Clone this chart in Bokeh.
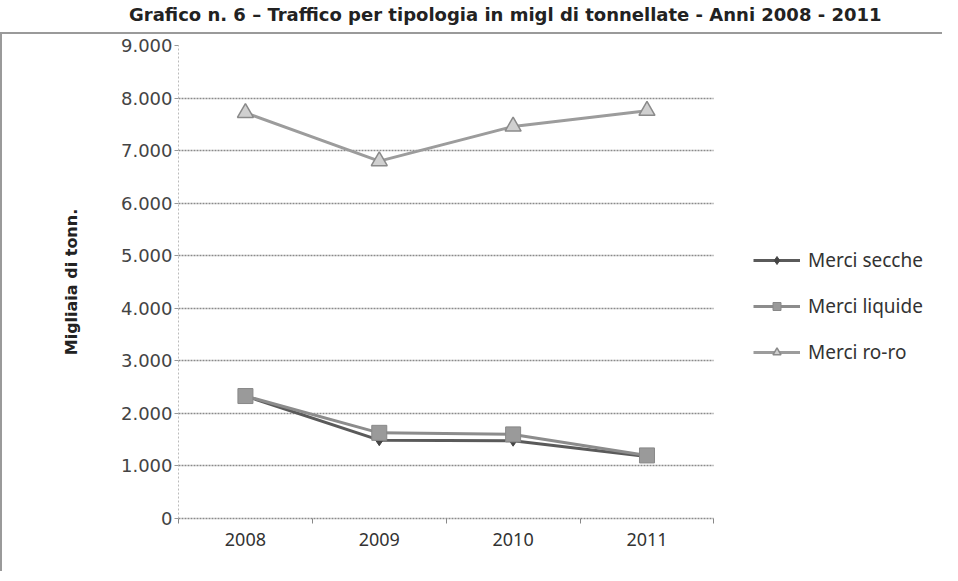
from bokeh.plotting import figure
from bokeh.models import Legend, LegendItem, FixedTicker, Div
from bokeh.layouts import column
from bokeh.embed import file_html
from bokeh.resources import INLINE

# ---- data ----
years = ["2008", "2009", "2010", "2011"]
secche = [2330, 1490, 1480, 1180]
liquide = [2330, 1630, 1600, 1200]
roro = [7720, 6800, 7460, 7760]
series_names = ["Merci secche", "Merci liquide", "Merci ro-ro"]
y_ticks = [0, 1000, 2000, 3000, 4000, 5000, 6000, 7000, 8000, 9000]
y_tick_labels = ["0", "1.000", "2.000", "3.000", "4.000", "5.000", "6.000", "7.000", "8.000", "9.000"]
title_text = "Grafico n. 6 \u2013 Traffico per tipologia in migl di tonnellate - Anni 2008 - 2011"
y_title = "Migliaia di tonn."

# layout sizes (pixels)
plot_w = 534      # width of the category area
frame_w = 764     # frame includes the legend area on the right
frame_h = 471

xs = [i + 0.5 for i in range(len(years))]
x_end = len(years) * frame_w / plot_w

title_div = Div(text=title_text, width=820, height=22,
                styles={"font-family": "DejaVu Sans", "font-weight": "bold",
                        "font-size": "18px", "color": "#222222",
                        "padding-left": "124px", "line-height": "20px",
                        "white-space": "nowrap"})

p = figure(frame_width=frame_w, frame_height=frame_h, x_range=(0, x_end), y_range=(0, 9000),
           output_backend="svg", toolbar_location=None,
           min_border_left=176, min_border_right=0, min_border_top=11, min_border_bottom=55)
p.styles = {"border-left": "2px solid #9a9a9a", "border-top": "2px solid #9a9a9a"}
p.outline_line_alpha = 0
p.background_fill_color = "white"
p.border_fill_color = "white"

# x axis
p.xaxis.bounds = (0, len(years))
p.xaxis.ticker = FixedTicker(ticks=xs, minor_ticks=list(range(len(years) + 1)))
p.xaxis.major_label_overrides = {x: y for x, y in zip(xs, years)}
p.xaxis.major_tick_line_alpha = 0
p.xaxis.minor_tick_out = 5
p.xaxis.minor_tick_in = 0
p.xaxis.minor_tick_line_color = "#888888"
p.xaxis.axis_line_color = "#8a8a8a"
p.xaxis.axis_line_dash = "2 1"
p.xaxis.axis_line_width = 1.5
p.xaxis.major_label_standoff = 8
p.xaxis.major_label_text_font = "Noto Sans"
p.xaxis.major_label_text_font_size = "18px"
p.xaxis.major_label_text_color = "#333333"

# y axis
p.yaxis.ticker = FixedTicker(ticks=y_ticks)
p.yaxis.major_label_overrides = {t: l for t, l in zip(y_ticks, y_tick_labels)}
p.yaxis.minor_tick_line_alpha = 0
p.yaxis.major_tick_out = 4
p.yaxis.major_tick_in = 0
p.yaxis.major_tick_line_color = "#999999"
p.yaxis.axis_line_color = "#bbbbbb"
p.yaxis.axis_line_dash = "2 2"
p.yaxis.major_label_standoff = 2
p.yaxis.major_label_text_font = "DejaVu Sans"
p.yaxis.major_label_text_font_size = "18px"
p.yaxis.major_label_text_color = "#444444"
p.yaxis.axis_label = y_title
p.yaxis.axis_label_text_font = "DejaVu Sans"
p.yaxis.axis_label_text_font_style = "bold"
p.yaxis.axis_label_text_font_size = "16px"
p.yaxis.axis_label_text_color = "#222222"
p.yaxis.axis_label_standoff = 37

p.xgrid.visible = False
p.ygrid.grid_line_color = "#8a8a8a"
p.ygrid.grid_line_dash = "2 1"
p.ygrid.grid_line_width = 1.5
p.ygrid.cross_bounds = (0, len(years))

# series
l1 = p.line(xs, secche, line_color="#5a5a5a", line_width=3)
m1 = p.scatter(xs, secche, marker="diamond", size=11, fill_color="#444444", line_color="#444444")
l2 = p.line(xs, liquide, line_color="#8c8c8c", line_width=3)
m2 = p.scatter(xs, liquide, marker="square", size=15, fill_color="#9a9a9a", line_color="#888888")
l3 = p.line(xs, roro, line_color="#9c9c9c", line_width=3)
m3 = p.scatter(xs, roro, marker="triangle", size=16, fill_color="#d0d0d0", line_color="#8a8a8a", line_width=1.5)

legend = Legend(items=[
    LegendItem(label=series_names[0], renderers=[l1, m1]),
    LegendItem(label=series_names[1], renderers=[l2, m2]),
    LegendItem(label=series_names[2], renderers=[l3, m3]),
], location=(plot_w + 41, 153))
legend.border_line_alpha = 0
legend.background_fill_alpha = 0
legend.padding = 0
legend.margin = 0
legend.spacing = 20
legend.glyph_width = 47
legend.glyph_height = 20
legend.label_height = 20
legend.label_standoff = 8
legend.label_text_font = "Noto Sans"
legend.label_text_font_size = "19px"
legend.label_text_color = "#333333"
p.add_layout(legend)

layout = column(title_div, p, spacing=0)
open("out.html", "w").write(file_html(layout, INLINE))
